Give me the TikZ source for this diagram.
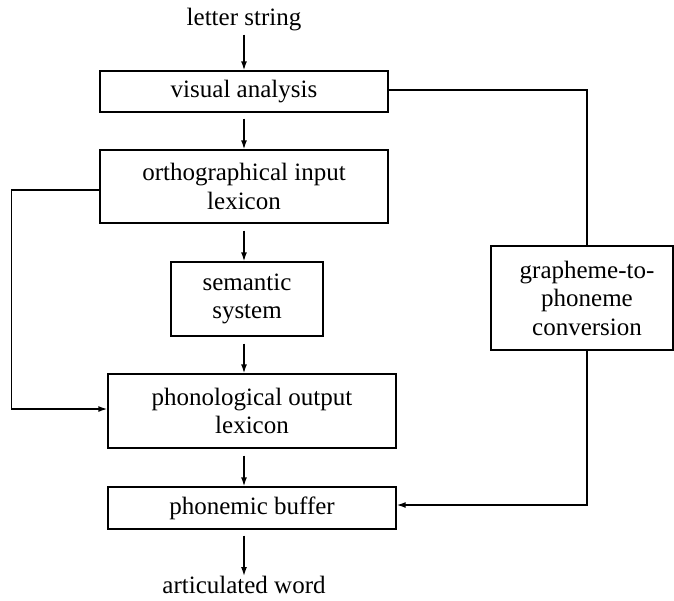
\documentclass[tikz,border=0pt]{standalone}
\usepackage{fontspec}
\setmainfont{Liberation Serif}
\usetikzlibrary{arrows.meta}
\begin{document}
\begin{tikzpicture}[x=1pt,y=-1pt,
  every node/.style={font=\rmfamily\fontsize{25}{28.5}\selectfont, inner sep=0pt},
  stage/.style={draw, line width=1.4pt, align=center},
  flow/.style={line width=1.4pt, -{Latex[length=9pt,width=6pt]}},
  link/.style={line width=1.4pt}]
  \useasboundingbox (0,0) rectangle (674,600);

  % terminal labels
  \node (input) at (244,20) {letter string};
  \node (output) at (244,585) {articulated word};

  % processing stages
  \node[stage, minimum width=288, minimum height=41] (vis) at (244,91.5) {visual analysis};
  \node[stage, minimum width=288, minimum height=73] (ortho) at (244,186.5) {orthographical input\\lexicon};
  \node[stage, minimum width=152, minimum height=74] (sem) at (247,299) {semantic\\system};
  \node[stage, minimum width=288, minimum height=74] (phono) at (252,411) {phonological output\\lexicon};
  \node[stage, minimum width=288, minimum height=42] (buf) at (252,508) {phonemic buffer};
  \node[stage, minimum width=182, minimum height=104] (gpc) at (582,298) {};
  \node[align=center] (gpctext) at (587,298) {grapheme-to-\\phoneme\\conversion};

  % main vertical route
  \draw[flow, shorten <=3pt] (input.south) -- (vis.north);
  \draw[flow, shorten <=6pt] (vis.south) -- (ortho.north);
  \draw[flow, shorten <=7pt] (ortho.south) -- (sem.north -| ortho.south);
  \draw[flow, shorten <=7pt] (sem.south -| ortho.south) -- (phono.north -| ortho.south);
  \draw[flow, shorten <=7pt] (phono.south -| ortho.south) -- (buf.north -| ortho.south);
  \draw[flow, shorten <=6pt] (buf.south -| ortho.south) -- (output.north);

  % lexical bypass on the left
  \draw[flow] ([yshift=-3.5pt]ortho.west) -- ++(-88,0) |- ([yshift=2pt]phono.west);

  % sublexical route on the right
  \draw[link] ([yshift=1.5pt]vis.east) -| ([xshift=5pt]gpc.north);
  \draw[flow] ([xshift=5pt]gpc.south) |- ([yshift=3pt]buf.east);
\end{tikzpicture}
\end{document}
